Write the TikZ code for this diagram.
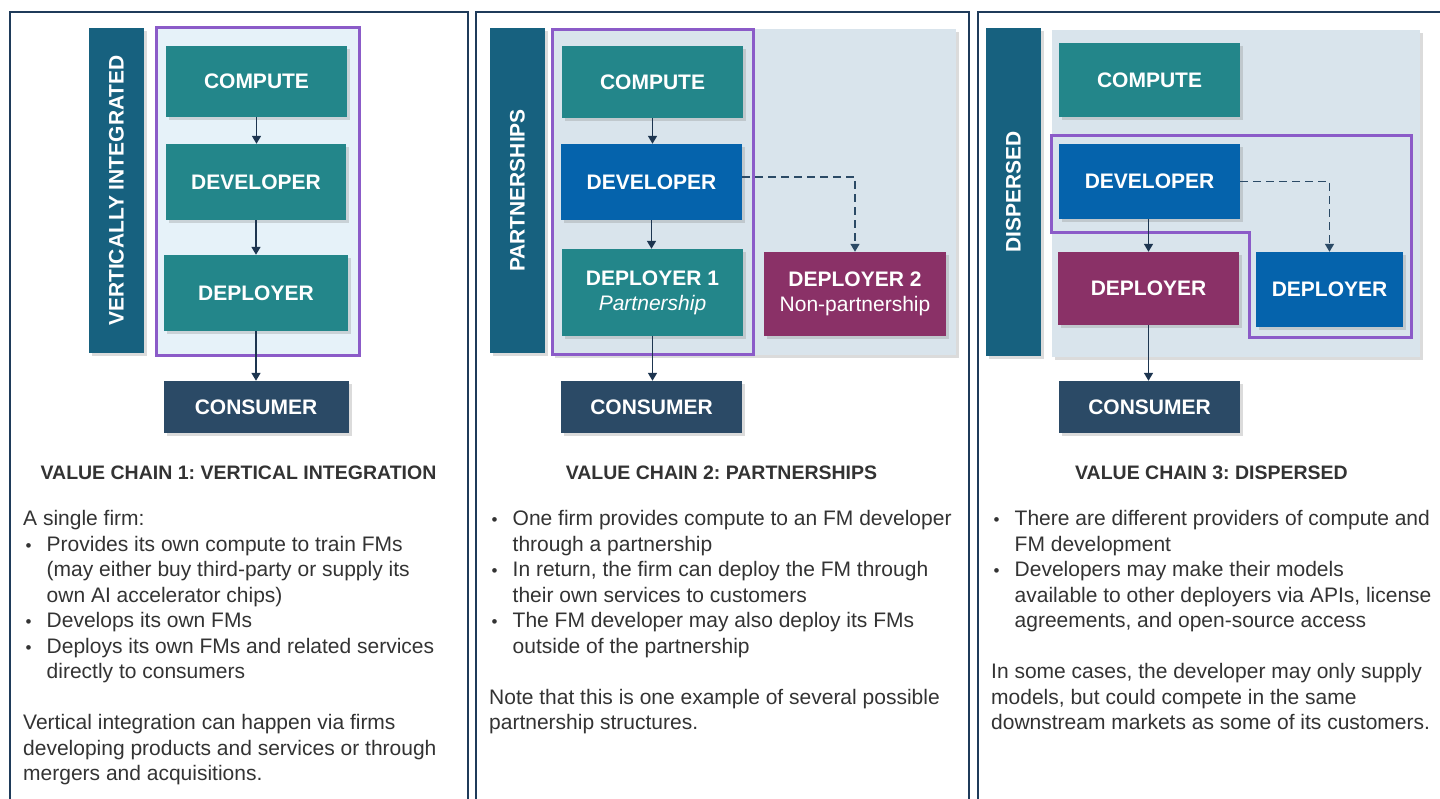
\documentclass[tikz,border=0pt]{standalone}
\usepackage{fontspec}
\setmainfont{Liberation Sans}
\usetikzlibrary{arrows.meta,shadows,calc}
\frenchspacing

\definecolor{vcTeal}{HTML}{23868A}
\definecolor{vcBlue}{HTML}{0563AC}
\definecolor{vcMagenta}{HTML}{8A3167}
\definecolor{vcConsumer}{HTML}{2B4A66}
\definecolor{vcBar}{HTML}{17617F}
\definecolor{vcPurple}{HTML}{8B5BC8}
\definecolor{vcPaleBlue}{HTML}{E6F2F9}
\definecolor{vcPaleGray}{HTML}{D9E4EC}
\definecolor{vcArrow}{HTML}{1D3550}
\definecolor{vcBorder}{HTML}{1F3B5A}
\definecolor{vcText}{HTML}{333333}

\newcommand\itemmark{\makebox[23.5pt][l]{\hspace{2.5pt}{\fontsize{17}{17}\selectfont\textbullet}}}
\newcommand\itemcont{\hspace*{23.5pt}}

\tikzset{
  shade box/.style={drop shadow={opacity=0.28, shadow xshift=3pt, shadow yshift=-3pt}},
  stagebox/.style={shade box, draw=none, text=white, inner sep=0pt, align=center,
    font=\fontsize{21}{25}\selectfont\bfseries},
  sidebar/.style={shade box, fill=vcBar, draw=none, inner sep=0pt},
  sidetext/.style={rotate=90, text=white, inner sep=0pt, font=\fontsize{21}{25}\selectfont\bfseries},
  panel/.style={draw=vcBorder, line width=2pt},
  firm/.style={draw=vcPurple, line width=3pt},
  flow/.style={draw=vcArrow, line width=1.5pt, -{Triangle[width=9pt,length=8pt]}},
  flowdash/.style={flow, draw=vcConsumer, dash pattern=on 8pt off 5pt},
  chaintitle/.style={text=vcText, inner sep=0pt, font=\fontsize{19.5}{24}\selectfont\bfseries},
  bodytext/.style={text=vcText, inner sep=0pt, anchor=north west, align=left,
    font=\fontsize{21}{25.5}\selectfont, execute at begin node=\strut},
}

\begin{document}
\begin{tikzpicture}[x=1pt,y=-1pt]
\useasboundingbox (0,0) rectangle (1440,798);
\clip (0,0) rectangle (1440,798);
\fill[white] (0,0) rectangle (1440,798);

% ---------- panel frames ----------
\draw[panel] (10,12) rectangle (468,810);
\draw[panel] (476,12) rectangle (969,810);
\draw[panel] (978,12) rectangle (1450,810);

% ---------- value chain 1: vertical integration ----------
\node[sidebar, minimum width=55pt, minimum height=325pt] (bar1) at (116.5,190.5) {};
\node[sidetext] (bar1t) at (bar1) {VERTICALLY INTEGRATED};
\draw[firm, fill=vcPaleBlue] (156,27) rectangle (359,355);
\node[stagebox, fill=vcTeal, minimum width=181pt, minimum height=71pt] (c1) at (256.5,81.5) {COMPUTE};
\node[stagebox, fill=vcTeal, minimum width=180pt, minimum height=76pt] (d1) at (256,182) {DEVELOPER};
\node[stagebox, fill=vcTeal, minimum width=184pt, minimum height=76pt] (p1) at (256,293) {DEPLOYER};
\node[stagebox, fill=vcConsumer, minimum width=185pt, minimum height=52pt] (u1) at (256,407) {CONSUMER};
\draw[flow] (c1.south) -- (c1.south |- d1.north);
\draw[flow] (d1.south) -- (d1.south |- p1.north);
\draw[flow] (p1.south) -- (p1.south |- u1.north);

\node[chaintitle] (t1) at (238.5,473) {VALUE CHAIN 1: VERTICAL INTEGRATION};
\node[bodytext] (b1) at (23,510.2) {A single firm:\\
\itemmark Provides its own compute to train FMs\\
\itemcont (may either buy third-party or supply its\\
\itemcont own AI accelerator chips)\\
\itemmark Develops its own FMs\\
\itemmark Deploys its own FMs and related services\\
\itemcont directly to consumers\\[25.5pt]
Vertical integration can happen via firms\\
developing products and services or through\\
mergers and acquisitions.};

% ---------- value chain 2: partnerships ----------
\node[sidebar, minimum width=55pt, minimum height=325pt] (bar2) at (517.5,190.5) {};
\node[sidetext] (bar2t) at (bar2) {PARTNERSHIPS};
\fill[vcPaleGray, shade box] (552,29) rectangle (956,355);
\draw[firm] (552,29) rectangle (753,354);
\node[stagebox, fill=vcTeal, minimum width=181pt, minimum height=72pt] (c2) at (652.5,82) {COMPUTE};
\node[stagebox, fill=vcBlue, minimum width=181pt, minimum height=76pt] (d2) at (651.5,182) {DEVELOPER};
\node[stagebox, fill=vcTeal, minimum width=181pt, minimum height=87pt] (p21) at (652.5,292.5)
  {DEPLOYER 1\\{\mdseries\itshape Partnership}};
\node[stagebox, fill=vcMagenta, minimum width=182pt, minimum height=84pt] (p22) at (855,294)
  {DEPLOYER 2\\{\mdseries Non-partnership}};
\node[stagebox, fill=vcConsumer, minimum width=181pt, minimum height=52pt] (u2) at (651.5,407) {CONSUMER};
\draw[flow] (c2.south) -- (c2.south |- d2.north);
\draw[flow] (d2.south) -- (d2.south |- p21.north);
\draw[flow] (p21.south) -- (p21.south |- u2.north);
\draw[flowdash] ([yshift=5pt]d2.east) -| (p22.north);

\node[chaintitle] (t2) at (721.5,473) {VALUE CHAIN 2: PARTNERSHIPS};
\node[bodytext] (b2) at (489,510.2) {%
\itemmark One firm provides compute to an FM developer\\
\itemcont through a partnership\\
\itemmark In return, the firm can deploy the FM through\\
\itemcont their own services to customers\\
\itemmark The FM developer may also deploy its FMs\\
\itemcont outside of the partnership\\[25.5pt]
Note that this is one example of several possible\\
partnership structures.};

% ---------- value chain 3: dispersed ----------
\node[sidebar, minimum width=55pt, minimum height=328pt] (bar3) at (1013.5,192) {};
\node[sidetext] (bar3t) at (bar3) {DISPERSED};
\fill[vcPaleGray, shade box] (1052,30) rectangle (1420,357);
\draw[firm] (1051,135) -- (1411,135) -- (1411,337) -- (1249,337) -- (1249,232) -- (1051,232) -- cycle;
\node[stagebox, fill=vcTeal, minimum width=181pt, minimum height=74pt] (c3) at (1149.5,80) {COMPUTE};
\node[stagebox, fill=vcBlue, minimum width=181pt, minimum height=75pt] (d3) at (1149.5,181.5) {DEVELOPER};
\node[stagebox, fill=vcMagenta, minimum width=181pt, minimum height=73pt] (p31) at (1148.5,288.5) {DEPLOYER};
\node[stagebox, fill=vcBlue, minimum width=147pt, minimum height=75pt] (p32) at (1329.5,289.5) {DEPLOYER};
\node[stagebox, fill=vcConsumer, minimum width=181pt, minimum height=52pt] (u3) at (1149.5,407) {CONSUMER};
\draw[flow] (p31.north |- d3.south) -- (p31.north);
\draw[flow] (p31.south) -- (p31.south |- u3.north);
\draw[flowdash] (d3.east) -| (p32.north);

\node[chaintitle] (t3) at (1211.5,473) {VALUE CHAIN 3: DISPERSED};
\node[bodytext] (b3) at (991,510.2) {%
\itemmark There are different providers of compute and\\
\itemcont FM development\\
\itemmark Developers may make their models\\
\itemcont available to other deployers via APIs, license\\
\itemcont agreements, and open-source access\\[25.5pt]
In some cases, the developer may only supply\\
models, but could compete in the same\\
downstream markets as some of its customers.};
\end{tikzpicture}
\end{document}
